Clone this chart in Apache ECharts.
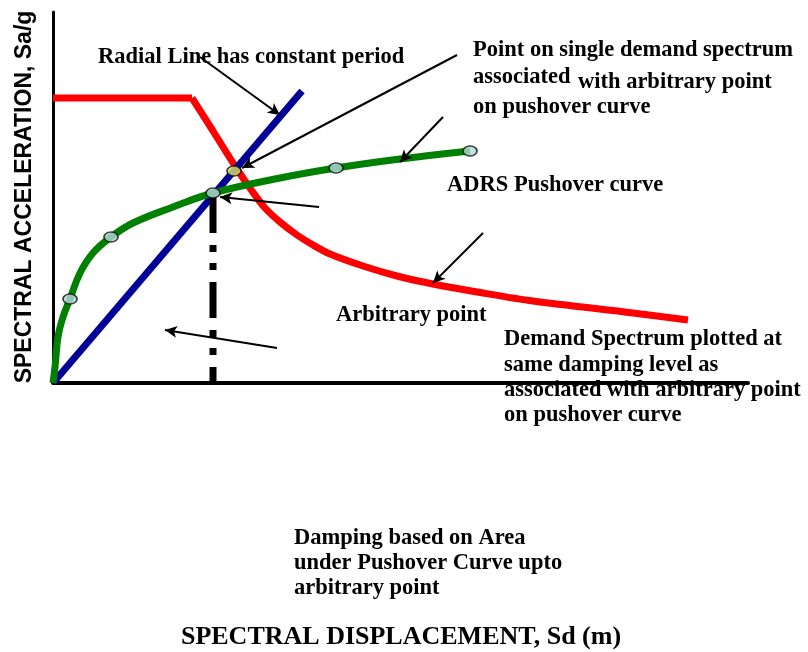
<!DOCTYPE html>
<html>
<head>
    <meta charset="utf-8">
    <title>ADRS demand / pushover</title>
    <script src="https://cdn.jsdelivr.net/npm/echarts@6/dist/echarts.min.js"></script>
    <style>
        html, body { margin: 0; padding: 0; background: #fff; }
    </style>
</head>
<body>
<div id="chart" style="width: 808px; height: 652px;"></div>

<script>
    // values (arbitrary units, origin at axis corner)
    // demand spectrum: flat plateau, then the falling branch
    var plateauSd = [0, 139];
    var plateauSa = [285, 285];
    var fallSd = [139, 160, 182, 199, 212, 227, 244, 260, 277, 310, 344, 380, 430, 480, 580, 635];
    var fallSa = [285, 252, 217, 192, 175, 161, 148, 138, 129, 117, 107, 99, 90, 82, 70, 63];

    var pushSd = [0, 2, 5, 10, 17, 27, 40, 58, 80, 120, 160, 227, 283, 347, 417];
    var pushSa = [0, 16, 46, 66, 84, 110, 130, 146, 160, 176, 190, 205, 215, 224, 232];

    var radialSd = [0, 249];
    var radialSa = [0, 292];

    // circles on pushover curve, and the point on the demand spectrum
    var stepSd = [17, 58, 160, 283, 417];
    var stepSa = [84, 146, 190, 215, 232];
    var demandPt = [181, 212];

    // the arbitrary point, dropped to the Sd axis
    var dropSd = [160, 160];
    var dropSa = [190, 0];

    // arrows: [from, to]
    var arrows = [
        [[147, 326], [227, 268]],
        [[404, 328], [189, 215]],
        [[390, 266], [347, 221]],
        [[266, 176], [167, 186]],
        [[224, 35], [112, 53]],
        [[430, 150], [380, 100]]
    ];

    var notes = [
        'Radial Line has constant period',
        'Point on single demand spectrum',
        'associated',
        'with arbitrary point',
        'on pushover curve',
        'ADRS Pushover curve',
        'Arbitrary point',
        'Demand Spectrum plotted at',
        'same damping level as',
        'associated with arbitrary point',
        'on pushover curve',
        'Damping based on Area',
        'under Pushover Curve upto',
        'arbitrary point'
    ];
    var notePos = [
        [98, 57], [473, 50], [473, 77], [578, 82], [473, 107],
        [447, 185], [336, 315],
        [504, 339], [504, 365], [504, 390], [504, 415],
        [294, 538], [294, 563], [294, 588]
    ];

    var xTitle = 'SPECTRAL DISPLACEMENT, Sd (m)';
    var yTitle = 'SPECTRAL ACCELERATION, Sa/g';

    function zip(a, b) {
        var out = [];
        for (var i = 0; i < a.length; i++) out.push([a[i], b[i]]);
        return out;
    }

    var serif = '"Liberation Serif", "Times New Roman", serif';
    var graphics = [];
    notes.forEach(function (t, i) {
        graphics.push({
            type: 'text', x: notePos[i][0], y: notePos[i][1], silent: true,
            style: { text: t, fill: '#000', font: 'bold 22.5px ' + serif, align: 'left', verticalAlign: 'middle' }
        });
    });
    graphics.push({
        type: 'text', x: 401, y: 637, silent: true,
        style: { text: xTitle, fill: '#000', font: 'bold 26px ' + serif, align: 'center', verticalAlign: 'middle' }
    });
    graphics.push({
        type: 'text', x: 25, y: 197, rotation: Math.PI / 2, silent: true,
        style: { text: yTitle, fill: '#000', font: 'bold 23px "Liberation Sans", Arial, sans-serif', align: 'center', verticalAlign: 'middle' }
    });

    var arrowData = arrows.map(function (a) {
        return [{ coord: a[0] }, { coord: a[1] }];
    });

    var chart = echarts.init(document.getElementById('chart'));
    var option = {
        animation: false,
        grid: { left: 53, right: 60, top: 12, bottom: 269 },
        xAxis: {
            type: 'value', min: 0, max: 695,
            axisLine: { show: true, onZero: false, lineStyle: { color: '#000', width: 4 } },
            axisTick: { show: false }, axisLabel: { show: false }, splitLine: { show: false }
        },
        yAxis: {
            type: 'value', min: 0, max: 371,
            axisLine: { show: true, onZero: false, lineStyle: { color: '#000', width: 3 } },
            axisTick: { show: false }, axisLabel: { show: false }, splitLine: { show: false }
        },
        graphic: graphics,
        series: [
            {
                name: 'Demand plateau', type: 'line', data: zip(plateauSd, plateauSa),
                showSymbol: false,
                lineStyle: { color: '#ff0000', width: 7, cap: 'butt' }, z: 2
            },
            {
                name: 'Demand spectrum', type: 'line', data: zip(fallSd, fallSa),
                showSymbol: false, smooth: 0.3,
                lineStyle: { color: '#ff0000', width: 7 }, z: 2
            },
            {
                name: 'Radial line', type: 'line', data: zip(radialSd, radialSa),
                showSymbol: false,
                lineStyle: { color: '#000099', width: 7 }, z: 3,
                markLine: {
                    silent: true, symbol: ['none', 'arrow'], symbolSize: [9, 12],
                    label: { show: false },
                    lineStyle: { color: '#000', width: 2, type: 'solid' },
                    data: arrowData
                }
            },
            {
                name: 'ADRS pushover', type: 'line', data: zip(pushSd, pushSa),
                showSymbol: false, smooth: 0.4,
                lineStyle: { color: '#008000', width: 7 }, z: 4
            },
            {
                name: 'Drop', type: 'line', data: zip(dropSd, dropSa),
                showSymbol: false,
                lineStyle: { color: '#000', width: 7, type: [36, 12, 7, 11, 7, 12], dashOffset: -4, cap: 'butt' }, z: 5
            },
            {
                name: 'Steps', type: 'scatter', data: zip(stepSd, stepSa),
                symbol: 'circle', symbolSize: [14, 10],
                itemStyle: { color: '#b4dadf', borderColor: '#111', borderWidth: 1.5 }, z: 6
            },
            {
                name: 'Demand point', type: 'scatter', data: [demandPt],
                symbol: 'circle', symbolSize: [14, 10],
                itemStyle: { color: '#e2e26a', borderColor: '#111', borderWidth: 1.5 }, z: 6
            }
        ]
    };
    chart.setOption(option);
</script>
</body>
</html>
